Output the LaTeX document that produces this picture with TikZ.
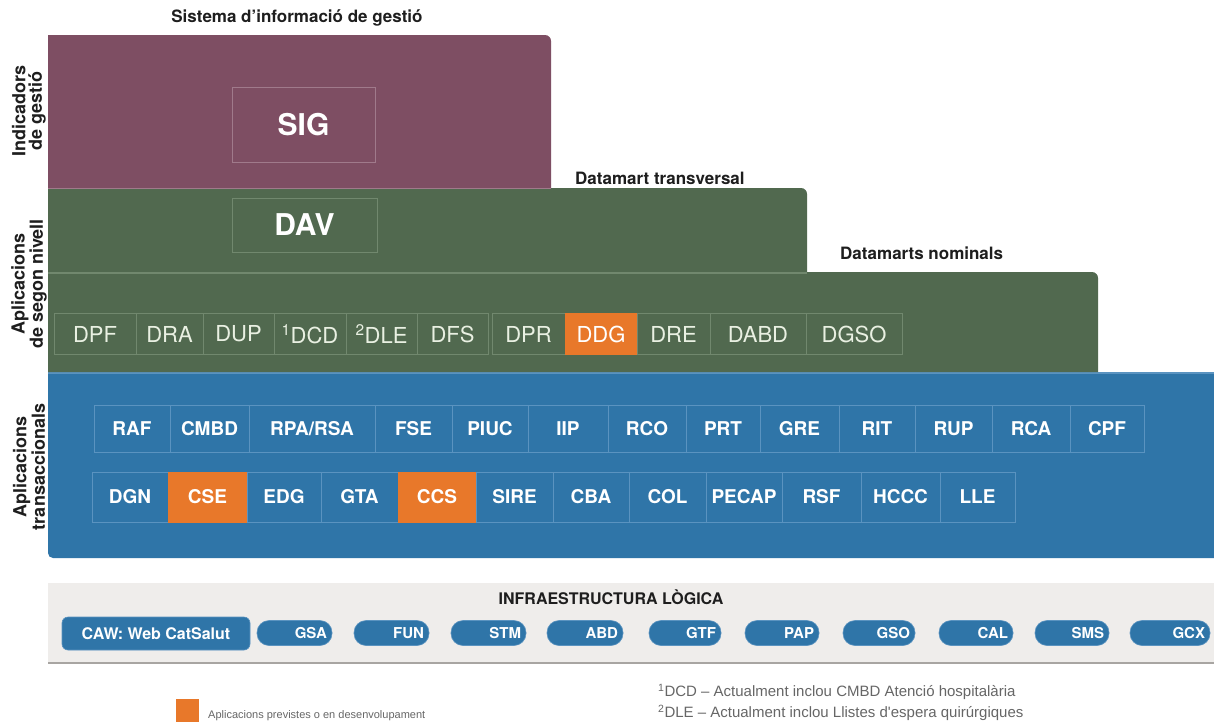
\documentclass[tikz,border=0pt]{standalone}
\usepackage{fontspec}
\setmainfont{TeX Gyre Heros}
\newfontfamily\notefont{Liberation Sans}
\definecolor{sigc}{HTML}{7E4E63}
\definecolor{sigline}{HTML}{A07A8B}
\definecolor{grn}{HTML}{51694F}
\definecolor{grnline}{HTML}{71886E}
\definecolor{blu}{HTML}{2F75A8}
\definecolor{bluline}{HTML}{5A93C0}
\definecolor{org}{HTML}{E8782A}
\definecolor{band}{HTML}{EFEDEB}
\definecolor{bandline}{HTML}{A8A5A2}
\definecolor{note}{HTML}{666666}
\definecolor{gtext}{HTML}{E9F0E2}
\definecolor{ink}{HTML}{1E1E1E}
\tikzset{
  bigbox/.style={line width=1pt, text=white, font=\bfseries\fontsize{30}{30}\selectfont, inner sep=0pt},
  gcell/.style={draw=grnline, fill=grn, line width=0.8pt, text=gtext, font=\fontsize{22}{22}\selectfont, inner sep=0pt, minimum height=41pt, minimum width=#1pt},
  gcello/.style={gcell=#1, fill=org, draw=org, text=white},
  bcell/.style={draw=bluline, fill=blu, line width=0.8pt, text=white, font=\bfseries\fontsize{19}{19}\selectfont, inner sep=0pt, minimum height=47pt, minimum width=#1pt},
  bcello/.style={bcell=#1, fill=org, draw=org},
  pill/.style={fill=blu, draw=bluline, line width=0.6pt, rounded corners=12pt, minimum height=25pt, inner xsep=5pt, inner ysep=0pt, text width=#1pt, align=right, text=white, font=\bfseries\fontsize{15}{15}\selectfont},
  side/.style={rotate=90, align=center, text=ink, font=\bfseries\fontsize{18}{16.5}\selectfont, inner sep=0pt},
  head/.style={text=ink, font=\bfseries\fontsize{17}{17}\selectfont, inner sep=0pt},
  notetxt/.style={text=note, font=\notefont\fontsize{15}{15}\selectfont, inner sep=0pt, anchor=west}
}
\begin{document}
\begin{tikzpicture}[x=1pt,y=-1pt]
\useasboundingbox (0,0) rectangle (1214,726);
\fill[white] (0,0) rectangle (1214,726);
% layers
\fill[blu] (48,372) -- (1214,372) -- (1214,558) -- (53,558) arc[start angle=270, end angle=180, radius=5pt] -- cycle;
\draw[bluline, line width=1.2pt] (48,373) -- (1214,373);
\fill[grn] (48,372) -- (48,272) -- (1092,272) arc[start angle=90, end angle=0, radius=6pt] -- (1098,372) -- cycle;
\fill[grn] (48,272) -- (48,188) -- (801,188) arc[start angle=90, end angle=0, radius=6pt] -- (807,272) -- cycle;
\draw[grnline, line width=1.2pt] (48,273) -- (807,273);
\fill[sigc] (48,188) -- (48,35) -- (545,35) arc[start angle=90, end angle=0, radius=6pt] -- (551,188) -- cycle;
\draw[sigline, line width=1pt] (48,188) -- (551,188);
% band
\fill[band] (48,583) rectangle (1214,663);
\draw[bandline, line width=1.5pt] (48,663) -- (1214,663);
% headings
\node[head] (t1) at (297,18) {Sistema d'informació de gestió};
\node[head, anchor=west] (t2) at (575,178) {Datamart transversal};
\node[head, anchor=west] (t3) at (840,253) {Datamarts nominals};
\node[side] (s1) at (29,111) {Indicadors\\de gestió};
\node[side] (s2) at (29,284) {Aplicacions\\de segon nivell};
\node[side] (s3) at (29,467) {Aplicacions\\transaccionals};
% big boxes
\node[bigbox, fill=sigc, draw=sigline, minimum width=143pt, minimum height=75pt] (sig) at (303.5,124.5) {SIG};
\node[bigbox, fill=grn, draw=grnline, minimum width=145pt, minimum height=54pt] (dav) at (304.5,225) {DAV};
% green cells
\node[gcell=82] (dpf) at (95,334) {DPF};
\node[gcell=67] (dra) at (169.5,334) {DRA};
\node[gcell=71] (dup) at (238.5,334) {DUP};
\node[gcell=72] (dcd) at (310,334) {\textsuperscript{1}DCD};
\node[gcell=71] (dle) at (381.5,334) {\textsuperscript{2}DLE};
\node[gcell=71] (dfs) at (452.5,334) {DFS};
\node[gcell=73] (dpr) at (528.5,334) {DPR};
\node[gcello=72] (ddg) at (601,334) {DDG};
\node[gcell=73] (dre) at (673.5,334) {DRE};
\node[gcell=96] (dabd) at (758,334) {DABD};
\node[gcell=96] (dgso) at (854,334) {DGSO};
% blue row 1
\node[bcell=76] (raf) at (132,428.5) {RAF};
\node[bcell=79] (cmbd) at (209.5,428.5) {CMBD};
\node[bcell=126] (rpa) at (312,428.5) {RPA/RSA};
\node[bcell=77] (fse) at (413.5,428.5) {FSE};
\node[bcell=76] (piuc) at (490,428.5) {PIUC};
\node[bcell=80] (iip) at (568,428.5) {IIP};
\node[bcell=78] (rco) at (647,428.5) {RCO};
\node[bcell=74] (prt) at (723,428.5) {PRT};
\node[bcell=79] (gre) at (799.5,428.5) {GRE};
\node[bcell=76] (rit) at (877,428.5) {RIT};
\node[bcell=77] (rup) at (953.5,428.5) {RUP};
\node[bcell=78] (rca) at (1031,428.5) {RCA};
\node[bcell=74] (cpf) at (1107,428.5) {CPF};
% blue row 2
\node[bcell=76, minimum height=50pt] (dgn) at (130,497) {DGN};
\node[bcello=79, minimum height=50pt] (cse) at (207.5,497) {CSE};
\node[bcell=74, minimum height=50pt] (edg) at (284,497) {EDG};
\node[bcell=77, minimum height=50pt] (gta) at (359.5,497) {GTA};
\node[bcello=78, minimum height=50pt] (ccs) at (437,497) {CCS};
\node[bcell=77, minimum height=50pt] (sire) at (514.5,497) {SIRE};
\node[bcell=76, minimum height=50pt] (cba) at (591,497) {CBA};
\node[bcell=77, minimum height=50pt] (col) at (667.5,497) {COL};
\node[bcell=76, minimum height=50pt] (pecap) at (744,497) {PECAP};
\node[bcell=79, minimum height=50pt] (rsf) at (821.5,497) {RSF};
\node[bcell=79, minimum height=50pt] (hccc) at (900.5,497) {HCCC};
\node[bcell=75, minimum height=50pt] (lle) at (977.5,497) {LLE};
% infrastructure
\node[head, font=\bfseries\fontsize{16}{16}\selectfont] (infra) at (611,597) {INFRAESTRUCTURA LÒGICA};
\node[fill=blu, draw=bluline, line width=0.6pt, rounded corners=6pt, minimum width=188pt, minimum height=33pt, inner sep=0pt, text=white, font=\bfseries\fontsize{16}{16}\selectfont] (caw) at (156,633.5) {CAW: Web CatSalut};
\node[pill=65] (gsa) at (294.5,633) {GSA};
\node[pill=65] (fun) at (391.5,633) {FUN};
\node[pill=65] (stm) at (488.5,633) {STM};
\node[pill=66] (abd) at (585,633) {ABD};
\node[pill=62] (gtf) at (685,633) {GTF};
\node[pill=64] (pap) at (782,633) {PAP};
\node[pill=62] (gso) at (879,633) {GSO};
\node[pill=64] (cal) at (976,633) {CAL};
\node[pill=64] (sms) at (1072,633) {SMS};
\node[pill=70] (gcx) at (1170,633) {GCX};
% legend and notes
\node[fill=org, minimum width=23pt, minimum height=23pt, inner sep=0pt] (lg) at (187,710) {};
\node[notetxt, font=\notefont\fontsize{11}{11}\selectfont] (lgt) at (208,716) {Aplicacions previstes o en desenvolupament};
\node[notetxt] (n1) at (658,692) {\textsuperscript{1}DCD – Actualment inclou CMBD Atenció hospitalària};
\node[notetxt] (n2) at (658,713) {\textsuperscript{2}DLE – Actualment inclou Llistes d'espera quirúrgiques};
\end{tikzpicture}
\end{document}
